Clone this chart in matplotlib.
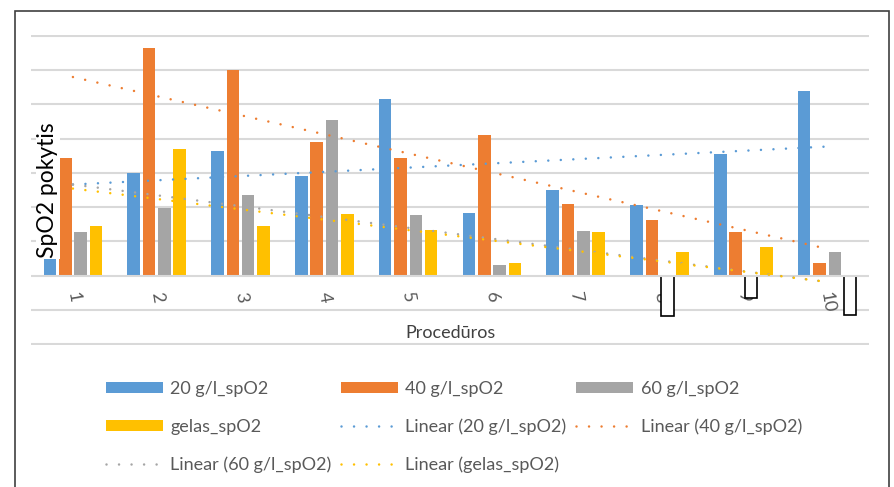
import numpy as np
import matplotlib
matplotlib.use("Agg")
import matplotlib.pyplot as plt
from matplotlib.patches import Patch, Rectangle
from matplotlib.lines import Line2D

# =====================================
# DATA
# =====================================

procedures = ["1", "2", "3", "4", "5", "6", "7", "8", "9", "10"]

spo2_20 = [2.15, 3.0, 3.63, 2.92, 5.15, 1.84, 2.49, 2.05, 3.54, 5.38]
spo2_40 = [3.45, 6.64, 6.02, 3.89, 3.45, 4.12, 2.10, 1.61, 1.26, 0.38]
spo2_60 = [1.26, 1.96, 2.34, 4.56, 1.78, 0.32, 1.29, -1.17, -0.67, 0.70]
spo2_gel = [1.46, 3.71, 1.46, 1.81, 1.32, 0.38, 1.26, 0.70, 0.82, -1.14]

series_names = ["20 g/l_spO2", "40 g/l_spO2", "60 g/l_spO2", "gelas_spO2"]
series_values = [spo2_20, spo2_40, spo2_60, spo2_gel]
colors = ["#5B9BD5", "#ED7D31", "#A5A5A5", "#FFC000"]

# =====================================
# FIGURE
# =====================================

plt.rcParams["font.family"] = ["Lato", "DejaVu Sans"]

fig = plt.figure(figsize=(8.94, 4.87), dpi=100)
ax = fig.add_axes([0.0347, 0.2916, 0.9374, 0.6365])

x = np.arange(1, len(procedures) + 1)
step = 0.183
bar_w = 0.15

for i, (vals, col) in enumerate(zip(series_values, colors)):
    vals = np.array(vals)
    face = [col if v >= 0 else "white" for v in vals]
    edge = ["none" if v >= 0 else "black" for v in vals]
    lw = [0 if v >= 0 else 1.2 for v in vals]
    ax.bar(x + (i - 1.5) * step, vals, width=bar_w, color=face,
           edgecolor=edge, linewidth=lw, zorder=2)

# linear trendlines
dotted = (0, (0.01, 5))
for vals, col in zip(series_values, colors):
    k, b = np.polyfit(x, vals, 1)
    ax.plot(x, k * x + b, color=col, lw=1.8, linestyle=dotted,
            dash_capstyle="round", zorder=4)

# gridlines and baseline
ax.set_ylim(-2.03, 7.03)
ax.set_xlim(0.5, len(procedures) + 0.5)
for level in range(-2, 8):
    ax.axhline(level, color="#D9D9D9", lw=1.5, zorder=1 if level else 3)

for side in ["left", "right", "top"]:
    ax.spines[side].set_visible(False)
ax.spines["bottom"].set_position(("data", 0))
ax.spines["bottom"].set_visible(False)
ax.set_yticks([])
ax.set_xticks(x)
ax.set_xticklabels(procedures, rotation=-80, ha="center", va="top",
                   fontsize=13, color="#595959")
ax.tick_params(axis="x", length=0, pad=11)

ax.text(0.5, 0.04, "Procedūros", transform=ax.transAxes, ha="center",
        va="center", fontsize=13, color="#404040")
ax.text(0.02, 0.5, "SpO2 pokytis", transform=ax.transAxes, rotation=90,
        ha="center", va="center", fontsize=16.5, color="black", zorder=6,
        bbox=dict(facecolor="white", edgecolor="none", pad=1))

# =====================================
# LEGEND
# =====================================

bar_handles = [Patch(facecolor=c, edgecolor="none") for c in colors]
trend_handles = [Line2D([], [], color=c, lw=1.8, linestyle=dotted,
                        dash_capstyle="round") for c in colors]
trend_names = ["Linear (" + n + ")" for n in series_names]

handles = [bar_handles[0], bar_handles[3], trend_handles[2],
           bar_handles[1], trend_handles[0], trend_handles[3],
           bar_handles[2], trend_handles[1]]
labels = [series_names[0], series_names[3], trend_names[2],
          series_names[1], trend_names[0], trend_names[3],
          series_names[2], trend_names[1]]

fig.legend(handles, labels, ncol=3, loc="upper left",
           bbox_to_anchor=(0.1186, 0.218), frameon=False, fontsize=13,
           labelcolor="#595959", handlelength=3.15, handleheight=0.55,
           handletextpad=0.4, columnspacing=0.55, labelspacing=1.2,
           borderpad=0, borderaxespad=0)

# outer chart border
fig.patches.append(Rectangle((15 / 894, -0.1), 874 / 894, 1 - 11 / 487 + 0.1,
                             transform=fig.transFigure, fill=False,
                             edgecolor="#404040", lw=1.2))

fig.savefig("out.png", dpi=100)
